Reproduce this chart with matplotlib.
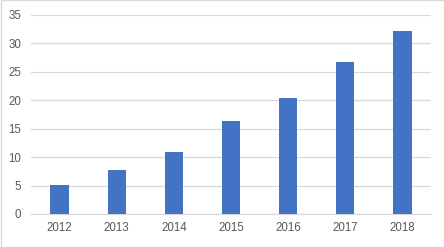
import matplotlib
matplotlib.use("Agg")
import matplotlib.pyplot as plt
from matplotlib.patches import Rectangle

years = ["2012", "2013", "2014", "2015", "2016", "2017", "2018"]
values = [5.1, 7.7, 10.9, 16.3, 20.4, 26.8, 32.2]
yticks = [0, 5, 10, 15, 20, 25, 30, 35]

plt.rcParams['font.family'] = ['Liberation Sans', 'DejaVu Sans']

fig = plt.figure(figsize=(4.44, 2.47), dpi=100)
ax = fig.add_axes([31/444, 1-214/247, 400/444, 199/247])

x = range(len(years))
ax.bar(x, values, width=0.32, color="#4472C4", zorder=3)
ax.set_xlim(-0.5, len(years)-0.5)
ax.set_ylim(0, 35)
ax.set_yticks(yticks)
ax.set_yticklabels([str(t) for t in yticks])
ax.set_xticks(list(x))
ax.set_xticklabels(years)
ax.grid(axis='y', color="#d9d9d9", linewidth=0.9, zorder=0)
for s in ['top', 'right', 'left']:
    ax.spines[s].set_visible(False)
ax.spines['bottom'].set_color("#d9d9d9")
ax.spines['bottom'].set_linewidth(0.9)
ax.tick_params(axis='both', length=0, labelsize=8.3, colors="#595959")
ax.tick_params(axis='y', pad=7)
ax.tick_params(axis='x', pad=6)

fig.patches.append(Rectangle((0.5/444, 0.5/247), 1-1/444, 1-1/247, transform=fig.transFigure,
                             fill=False, edgecolor="#d9d9d9", linewidth=1.0))
fig.savefig("out.png", dpi=100)
